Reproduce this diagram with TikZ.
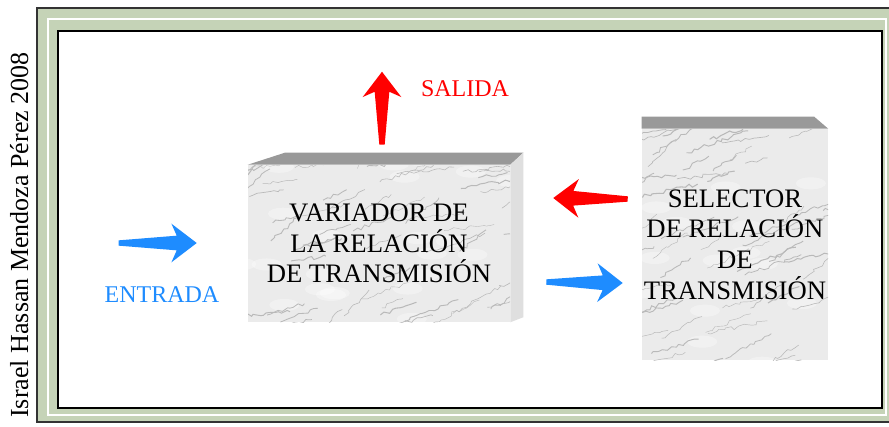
\documentclass[tikz,border=0pt]{standalone}
\usepackage{fontspec}
\setmainfont{Liberation Serif}
\usetikzlibrary{calc,positioning,decorations.pathmorphing}

\definecolor{sage}{HTML}{C5D3B7}
\definecolor{arrowblue}{HTML}{1E8CFF}
\definecolor{arrowred}{HTML}{FF0000}

% tapered block arrow: colour, tail, tip
\newcommand{\fatarrow}[3]{%
  \path ($(#3)!15pt!(#2)$) coordinate (neck) ($(#3)!19pt!(#2)$) coordinate (barb);
  \fill[#1] ($(#2)!2pt!90:(#3)$) -- ($(neck)!5.5pt!90:(#3)$) -- ($(barb)!14.5pt!90:(#3)$) -- (#3)
    -- ($(barb)!14.5pt!-90:(#3)$) -- ($(neck)!5.5pt!-90:(#3)$) -- ($(#2)!2pt!-90:(#3)$) -- cycle;}

\begin{document}
\begin{tikzpicture}[x=0.75pt,y=-0.75pt]
            \tikzstyle{vein}=[draw=gray!55, decorate, decoration={random steps,segment length=3pt,amplitude=1.4pt}]
            \tikzstyle{marble}=[rectangle, fill=gray!16, inner sep=0pt, align=center,
                font=\fontsize{20}{23}\selectfont,
                path picture={
                    \foreach \v in {1,...,30}{
                        \pgfmathsetmacro\wx{300*rnd-150}
                        \pgfmathsetmacro\wy{260*rnd-130}
                        \fill[white, opacity=0.35] ($(path picture bounding box.center)+(\wx,\wy)$) ellipse [x radius=15, y radius=6];
                    }
                    \foreach \v in {1,...,75}{
                        \pgfmathsetmacro\vx{300*rnd-150}
                        \pgfmathsetmacro\vy{260*rnd-130}
                        \pgfmathsetmacro\vl{20+45*rnd}
                        \pgfmathsetmacro\vh{4+24*rnd}
                        \pgfmathsetmacro\vw{0.25+0.55*rnd}
                        \draw[vein, line width=\vw pt] ($(path picture bounding box.center)+(\vx,\vy)$) -- ++(\vl,-\vh);
                    }}]
            \tikzstyle{tag}=[font=\fontsize{18}{20}\selectfont, inner sep=0pt]
            \pgfmathsetseed{11}
            \useasboundingbox (0,0) rectangle (889,426);

            % frame
            \draw[fill=sage, draw=black!80, line width=1.5] (37,8) rectangle (895,422);
            \draw[white, line width=1.5] (48,19) rectangle (886,415);
            \draw[fill=white, line width=2] (58,31) rectangle (882,408);

            \node[rotate=90, anchor=base, font=\fontsize{19.5}{22}\selectfont, inner sep=0pt] (author) at (28,235) {Israel Hassan Mendoza Pérez 2008};

            % blocks
            \node[marble, minimum width=196.5pt, minimum height=117.75pt] (var) at (379,243.5) {VARIADOR DE\\LA RELACIÓN\\DE TRANSMISIÓN};
            \node[marble, minimum width=139.5pt, minimum height=173.25pt] (sel) at (735,244.5) {SELECTOR\\DE RELACIÓN\\DE\\TRANSMISIÓN};
            \fill[gray!80] (var.north west) -- ++(37,-12) -- ($(var.north east)+(13,-12)$) -- (var.north east) -- cycle;
            \fill[gray!25] (var.north east) -- ++(13,-12) -- ($(var.south east)+(13,-5)$) -- (var.south east) -- cycle;
            \fill[gray!80] (sel.north west) -- ++(0,-12) -- ($(sel.north east)+(-14,-12)$) -- (sel.north east) -- cycle;

            % arrows
            \coordinate (in0) at ($(var.west)+(-129,-0.5)$);
            \coordinate (in1) at ($(var.west)+(-51,-0.5)$);
            \coordinate (out0) at ($(var.north)+(3,-20)$);
            \coordinate (out1) at ($(out0)+(0,-73)$);
            \coordinate (fb0) at ($(sel.west)+(-14,-45.5)$);
            \coordinate (fb1) at ($(var.east)+(43,-45.5)$);
            \coordinate (go0) at ($(var.east)+(36,38.5)$);
            \coordinate (go1) at ($(sel.west)+(-19,38.5)$);
            \fatarrow{arrowblue}{in0}{in1}
            \fatarrow{arrowred}{out0}{out1}
            \fatarrow{arrowred}{fb0}{fb1}
            \fatarrow{arrowblue}{go0}{go1}

            \node[tag, text=arrowblue] (entrada) at (162,295) {ENTRADA};
            \node[tag, text=arrowred]  (salida)  at (465,89)  {SALIDA};
        \end{tikzpicture}
\end{document}
